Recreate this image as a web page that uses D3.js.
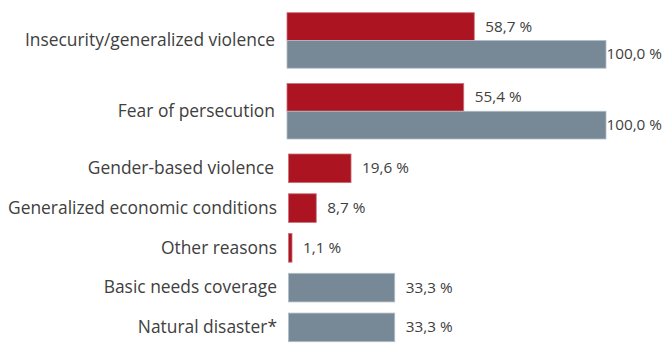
<!DOCTYPE html>
<html>
<head>
<meta charset="utf-8">
<script src="https://cdn.jsdelivr.net/npm/d3@7"></script>
<style>
  html, body { margin: 0; padding: 0; background: #fff; }
  svg { display: block; }
  text { font-family: "Open Sans", "Noto Sans", sans-serif; fill: #404040; }
</style>
</head>
<body>
<svg id="chart" width="670" height="343"></svg>
<script>
// Reasons, split in two blocks: the first two compare two groups side by side
const topCategories = ["Insecurity/generalized violence", "Fear of persecution"];
const redValues = [58.7, 55.4];
const grayValues = [100.0, 100.0];

// Remaining reasons, each reported for a single group
const otherCategories = [
  "Gender-based violence",
  "Generalized economic conditions",
  "Other reasons",
  "Basic needs coverage",
  "Natural disaster*"
];
const otherValues = [19.6, 8.7, 1.1, 33.3, 33.3];
const otherSeries = ["red", "red", "red", "gray", "gray"];

const seriesKeys = ["red", "gray"];
const colors = { red: "#ad1421", gray: "#778897" };
const strokes = { red: "#c9707a", gray: "#b4bec7" };

const labelRight = 662;
const catFont = "17.4px", valFont = "15.3px";
const svg = d3.select("#chart");
const fmt = v => d3.format(".1f")(v).replace(".", ",") + " %";

function valueLabel(g, x, v, cy) {
  const t = g.append("text")
    .attr("y", cy + 1)
    .attr("dominant-baseline", "middle")
    .style("font-size", valFont)
    .text(fmt(v));
  const w = t.node().getComputedTextLength();
  t.attr("x", Math.min(x(v) + 11, labelRight - w));
}

// ---- top block: grouped bars ----
const xTop = d3.scaleLinear().domain([0, 100]).range([287, 606]);
const yTop = d3.scaleBand().domain(topCategories).range([12.7, 139]).paddingInner(0.216);
const ySub = d3.scaleBand().domain(seriesKeys).range([0, yTop.bandwidth()]);

const gTop = svg.append("g");
topCategories.forEach((cat, i) => {
  const vals = { red: redValues[i], gray: grayValues[i] };
  const g = gTop.append("g").attr("transform", `translate(0,${yTop(cat)})`);
  seriesKeys.forEach(k => {
    g.append("rect")
      .attr("x", xTop(0))
      .attr("y", ySub(k))
      .attr("width", xTop(vals[k]) - xTop(0))
      .attr("height", ySub.bandwidth())
      .attr("fill", colors[k])
      .attr("stroke", strokes[k])
      .attr("stroke-width", 0.8);
    valueLabel(g, xTop, vals[k], ySub(k) + ySub.bandwidth() / 2);
  });
  g.append("text")
    .attr("x", 275)
    .attr("y", yTop.bandwidth() / 2 + 1)
    .attr("text-anchor", "end")
    .attr("dominant-baseline", "middle")
    .style("font-size", catFont)
    .text(cat);
});

// ---- bottom block: single bars ----
const xBot = d3.scaleLinear().domain([0, 100]).range([288.5, 607.5]);
const yBot = d3.scaleBand().domain(otherCategories).range([154, 341.7]).paddingInner(0.28);

const gBot = svg.append("g");
otherCategories.forEach((cat, i) => {
  const v = otherValues[i], k = otherSeries[i];
  const cy = yBot(cat) + yBot.bandwidth() / 2;
  gBot.append("rect")
    .attr("x", xBot(0))
    .attr("y", yBot(cat))
    .attr("width", xBot(v) - xBot(0))
    .attr("height", yBot.bandwidth())
    .attr("fill", colors[k])
    .attr("stroke", strokes[k])
    .attr("stroke-width", 0.8);
  valueLabel(gBot, xBot, v, cy);
  gBot.append("text")
    .attr("x", i === 0 ? 274 : 277)
    .attr("y", cy + 1)
    .attr("text-anchor", "end")
    .attr("dominant-baseline", "middle")
    .style("font-size", catFont)
    .text(cat);
});
</script>
</body>
</html>
